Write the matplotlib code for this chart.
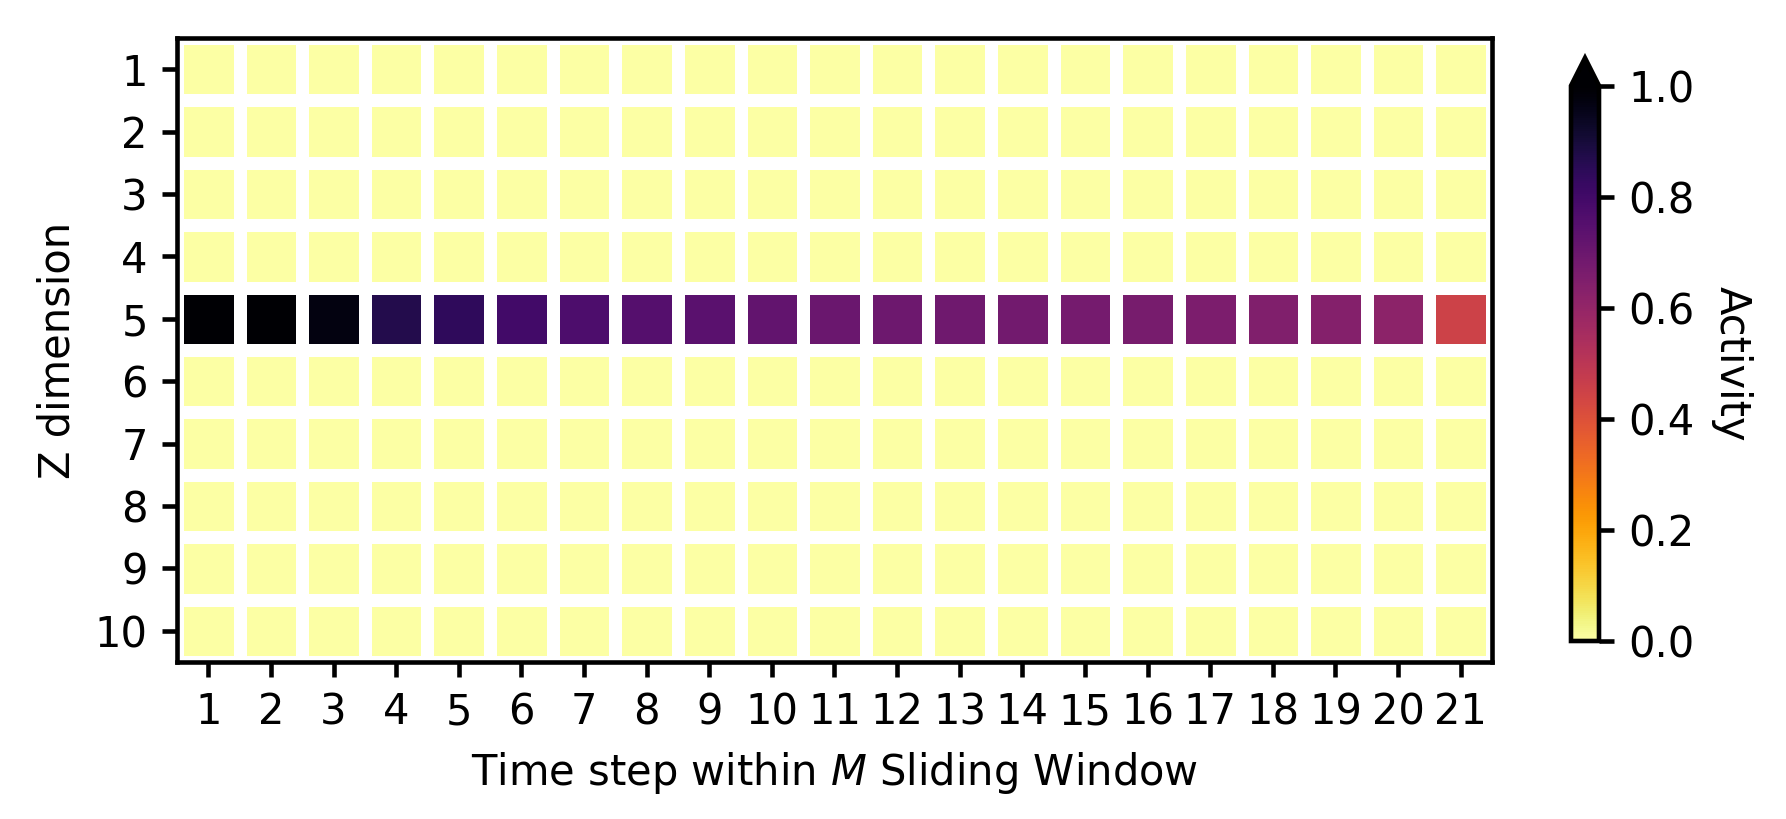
import numpy as np
import matplotlib
matplotlib.use("Agg")
import matplotlib.pyplot as plt

# z dimension rows, time steps in the sliding window
z_labels = [str(i) for i in range(1, 11)]
t_labels = [str(i) for i in range(1, 22)]

# activity of the only active row (z = 5)
row5 = [1.02, 1.0, 0.97, 0.87, 0.84, 0.80, 0.77, 0.75, 0.74, 0.72, 0.70,
        0.695, 0.69, 0.68, 0.675, 0.67, 0.66, 0.645, 0.64, 0.62, 0.45]
active_row = 5

activity = np.zeros((len(z_labels), len(t_labels)))
activity[active_row - 1, :] = row5

fig = plt.figure(figsize=(1786 / 300, 819 / 300), dpi=300)
ax = fig.add_axes([177 / 1786, 1 - 662 / 819, (1492 - 177) / 1786, (662 - 38) / 819])
# colorbar box includes the extend arrow
cax = fig.add_axes([1571 / 1786, 1 - 641 / 819, 28 / 1786, (641 - 58) / 819])

mesh = ax.pcolormesh(activity, cmap="inferno_r", vmin=0, vmax=1,
                     edgecolors="white", linewidth=3.0)
ax.set_xlim(0, len(t_labels))
ax.set_ylim(len(z_labels), 0)

ax.set_xticks(np.arange(len(t_labels)) + 0.5)
ax.set_xticklabels(t_labels)
ax.set_yticks(np.arange(len(z_labels)) + 0.5)
ax.set_yticklabels(z_labels)
ax.set_xlabel("Time step within $M$ Sliding Window")
ax.set_ylabel("Z dimension")
for s in ax.spines.values():
    s.set_linewidth(1.1)
ax.tick_params(width=1.1)

cb = fig.colorbar(mesh, cax=cax, extend="max")
cb.set_label("Activity", rotation=270, labelpad=14)
cb.set_ticks([0, 0.2, 0.4, 0.6, 0.8, 1.0])
cb.outline.set_linewidth(1.1)
cax.tick_params(width=1.1)

fig.savefig("out.png", dpi=300)
